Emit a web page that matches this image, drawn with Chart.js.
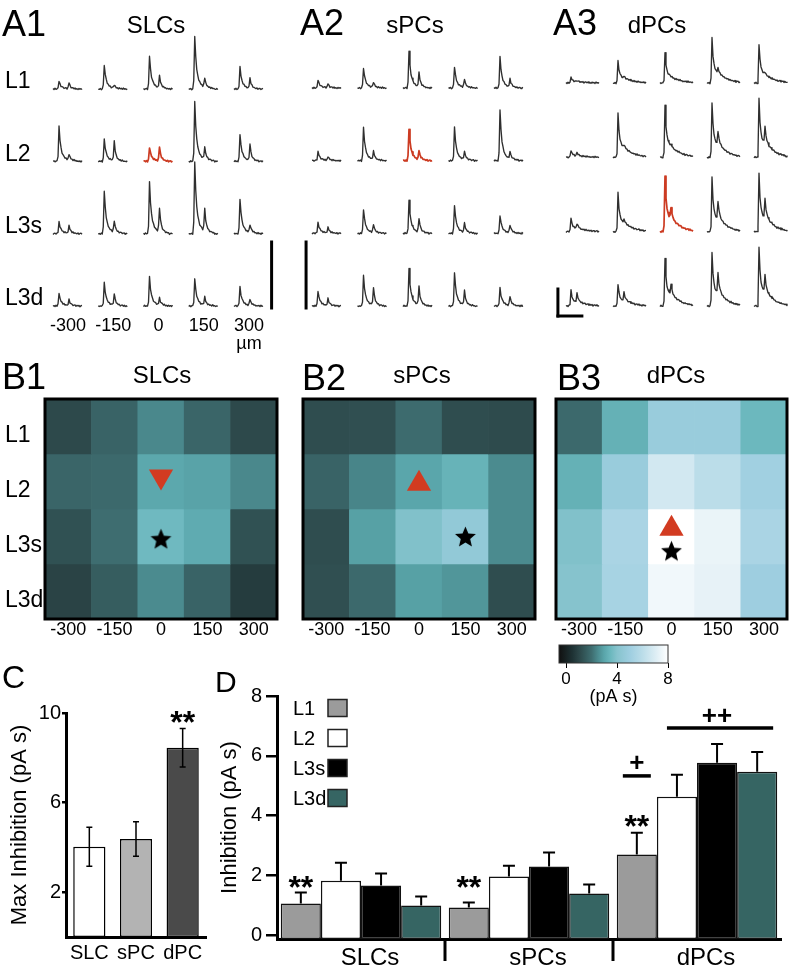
<!DOCTYPE html>
<html><head><meta charset="utf-8">
<script src="https://cdn.jsdelivr.net/npm/chart.js@4.4.0/dist/chart.umd.min.js"></script>
<style>
html,body{margin:0;padding:0;background:#fff;}
body{width:796px;height:975px;position:relative;overflow:hidden;font-family:"Liberation Sans",Arial,Helvetica,sans-serif;}
.lbl{position:absolute;white-space:nowrap;color:#000;line-height:1;}
canvas{position:absolute;}
</style></head><body>
<script>
// ---------------- DATA ----------------
const positions = ['-300', '-150', '0', '150', '300'];
const layers = ['L1', 'L2', 'L3s', 'L3d'];

// A: evoked IPSC trace amplitudes (first / second event), rows L1..L3d, columns -300..300 um
const slcPeak1 = [[8, 24, 33, 53, 22], [35, 22, 14, 59, 27], [12, 43, 52, 72, 35], [13, 23, 29, 27, 19]];
const slcPeak2 = [[6, 3, 12, 9, 10], [6, 19, 14, 12, 16], [8, 11, 24, 22, 8], [6, 11, 7, 8, 6]];
const spcPeak1 = [[8, 20, 37, 21, 31], [9, 33, 32, 33, 51], [11, 24, 33, 28, 18], [15, 30, 37, 33, 18]];
const spcPeak2 = [[4, 5, 14, 8, 8], [4, 8, 9, 8, 7], [6, 8, 14, 9, 8], [7, 17, 18, 14, 9]];
const dpcPeak1 = [[6, 22, 30, 45, 39], [7, 44, 52, 55, 59], [14, 39, 56, 54, 58], [16, 22, 48, 54, 59]];
const dpcPeak2 = [[1, 2, 0, 5, 2], [3, 3, 1, 14, 18], [5, 4, 12, 19, 20], [9, 9, 11, 21, 18]];
// highlighted (red) trace per panel: [row, col]
const slcHighlight = [1, 2];
const spcHighlight = [1, 2];
const dpcHighlight = [2, 2];

// normalised event waveforms (one sample per pixel)
const fastEvent1 = [0,0,0,0,0,0.15,1,0.6,0.38,0.26,0.18,0.13,0.1,0.08,0.06,0.05,0.04,0.035,0.03,0.025,0.02,0.02,0.015,0.01,0.01,0.005,0,0,0,0];
const fastEvent2 = [0,0,0,0,0,0,0,0,0,0,0,0,0,0,0,0.2,1,0.5,0.28,0.16,0.1,0.06,0.04,0.03,0.02,0.01,0,0,0,0];
const slowEvent1 = [0,0,0,0,0.1,1,0.6,0.42,0.33,0.28,0.25,0.22,0.2,0.18,0.16,0.14,0.13,0.12,0.11,0.1,0.09,0.08,0.07,0.06,0.06,0.05,0.05,0.04,0.04,0.03,0.03,0.03,0.02,0.02];
const slowEvent2 = [0,0,0,0,0,0,0,0,0,0,0.15,1,0.55,0.35,0.25,0.18,0.14,0.11,0.09,0.07,0.06,0.05,0.04,0.03,0.03,0.02,0.02,0.01,0.01,0.01,0.01,0,0,0];
const traceNoise = [0.5,-0.6,0.8,-0.3,0.2,0,-0.4,0.6,-0.7,0.3,0.5,-0.5,0.2,0.7,-0.6,0.4,-0.2,0.6,-0.8,0.3,0.5,-0.4,0.7,-0.5,0.2,-0.7,0.6,-0.3,0.4,-0.6,0.8,-0.2,0.3,-0.5,0.1,-0.3];

// B: inhibition maps (pA s), rows L1..L3d, columns -300..300 um
const slcMap = [[1.1, 1.75, 2.45, 1.8, 1.1], [1.8, 1.9, 3.05, 2.95, 2.45], [1.3, 2.0, 3.55, 3.15, 1.3], [0.95, 1.6, 2.5, 1.75, 0.75]];
const spcMap = [[1.2, 1.25, 1.95, 1.2, 1.15], [1.75, 2.4, 3.0, 3.35, 2.5], [1.2, 2.9, 3.9, 4.5, 2.5], [1.25, 1.9, 2.9, 2.7, 1.2]];
const dpcMap = [[1.9, 3.3, 4.8, 4.8, 3.5], [3.3, 4.8, 6.7, 6.0, 5.1], [3.9, 5.4, 8.0, 7.4, 5.4], [4.0, 5.3, 7.6, 7.3, 5.0]];
const colorbarTicks = [0, 4, 8];
const colorbarMin = -0.55;
const colorbarMax = 8;

// C: max inhibition
const cellTypes = ['SLC', 'sPC', 'dPC'];
const maxInhibition = [4.03, 4.38, 8.45];
const maxInhibitionSem = [0.87, 0.77, 0.86];
const cTicks = [2, 6, 10];

// D: inhibition by layer
const groups = ['SLCs', 'sPCs', 'dPCs'];
const inhL1 = [1.07, 0.93, 2.7];
const inhL2 = [1.83, 1.97, 4.63];
const inhL3s = [1.67, 2.3, 5.77];
const inhL3d = [1.0, 1.4, 5.47];
const semL1 = [0.36, 0.17, 0.73];
const semL2 = [0.6, 0.36, 0.74];
const semL3s = [0.4, 0.47, 0.63];
const semL3d = [0.3, 0.3, 0.66];
const dTicks = [0, 2, 4, 6, 8];

// ---------------- HELPERS ----------------
const FONT = '"Liberation Sans", Arial, Helvetica, sans-serif';
Chart.defaults.font.family = FONT;
Chart.defaults.color = '#000';

function mkCanvas(left, top, w, h) {
  const c = document.createElement('canvas');
  c.width = w; c.height = h;
  c.style.left = left + 'px'; c.style.top = top + 'px';
  c.style.width = w + 'px'; c.style.height = h + 'px';
  document.body.appendChild(c);
  return c;
}
function addText(txt, x, baseline, size, align) {
  const d = document.createElement('div');
  d.className = 'lbl'; d.textContent = txt;
  d.style.fontSize = size + 'px';
  d.style.top = (baseline - 0.8465 * size) + 'px';
  d.style.left = x + 'px';
  if (align === 'center') d.style.transform = 'translateX(-50%)';
  document.body.appendChild(d);
}
const baseOpts = () => ({
  responsive: false, animation: false, events: [], devicePixelRatio: 1,
});
const layoutPad = p => ({autoPadding: false, padding: p});
const noLegend = {legend: {display: false}, tooltip: {enabled: false}};
// fixed axis sizes with no label-overflow padding
const fixH = h => s => { s.height = h; s.paddingLeft = 0; s.paddingRight = 0; };
const fixW = w => s => { s.width = w; s.paddingTop = 0; s.paddingBottom = 0; };

const heatStops = [[-0.55,'#101010'],[0.5,'#1e3234'],[1,'#2b4547'],[1.5,'#34595b'],[2,'#3e6d70'],[2.5,'#4b8b8f'],[3,'#5aa6ab'],[3.5,'#6cb8be'],[4,'#86c3cd'],[5,'#9ecee0'],[6,'#bbdde9'],[7,'#dcedf4'],[8,'#ffffff']];
function hexRgb(h) { return [parseInt(h.slice(1,3),16), parseInt(h.slice(3,5),16), parseInt(h.slice(5,7),16)]; }
function heatColor(v) {
  if (v <= heatStops[0][0]) return heatStops[0][1];
  for (let i = 1; i < heatStops.length; i++) {
    if (v <= heatStops[i][0]) {
      const [v0, c0] = heatStops[i-1], [v1, c1] = heatStops[i];
      const t = (v - v0) / (v1 - v0), a = hexRgb(c0), b = hexRgb(c1);
      return 'rgb(' + a.map((x, k) => Math.round(x + (b[k] - x) * t)).join(',') + ')';
    }
  }
  return heatStops[heatStops.length-1][1];
}

// ---------------- PLUGINS ----------------
const scaleBarPlugin = {
  id: 'scaleBar',
  afterDatasetsDraw(chart, args, opts) {
    if (!opts.segments) return;
    const ctx = chart.ctx, xs = chart.scales.x, ys = chart.scales.y;
    ctx.save(); ctx.strokeStyle = '#000'; ctx.lineWidth = 3; ctx.lineCap = 'square';
    opts.segments.forEach(s => {
      ctx.beginPath();
      ctx.moveTo(xs.getPixelForValue(s[0]), ys.getPixelForValue(s[1]));
      ctx.lineTo(xs.getPixelForValue(s[2]), ys.getPixelForValue(s[3]));
      ctx.stroke();
    });
    ctx.restore();
  }
};
const framePlugin = {
  id: 'frame',
  afterDraw(chart, args, opts) {
    if (!opts.width) return;
    const {left, top, right, bottom} = chart.chartArea, ctx = chart.ctx;
    ctx.save(); ctx.strokeStyle = opts.color || '#000'; ctx.lineWidth = opts.width;
    ctx.strokeRect(left, top, right - left, bottom - top);
    ctx.restore();
  }
};
const errorBarsPlugin = {
  id: 'errorBars',
  afterDatasetsDraw(chart, args, opts) {
    const ctx = chart.ctx, ys = chart.scales.y;
    ctx.save(); ctx.strokeStyle = '#000'; ctx.lineWidth = opts.lineWidth || 1.5;
    chart.data.datasets.forEach((ds, i) => {
      if (!ds.errors) return;
      chart.getDatasetMeta(i).data.forEach((el, j) => {
        const v = ds.data[j], e = ds.errors[j], h = opts.cap / 2;
        const yTop = ys.getPixelForValue(v + e);
        const yBot = opts.twoSided ? ys.getPixelForValue(v - e) : el.y;
        ctx.beginPath();
        ctx.moveTo(el.x, yBot); ctx.lineTo(el.x, yTop);
        ctx.moveTo(el.x - h, yTop); ctx.lineTo(el.x + h, yTop);
        if (opts.twoSided) { ctx.moveTo(el.x - h, yBot); ctx.lineTo(el.x + h, yBot); }
        ctx.stroke();
      });
    });
    ctx.restore();
  }
};
const marksPlugin = {
  id: 'marks',
  afterDatasetsDraw(chart, args, opts) {
    const ctx = chart.ctx, ys = chart.scales.y;
    ctx.save(); ctx.fillStyle = '#000'; ctx.strokeStyle = '#000';
    (opts.texts || []).forEach(t => {
      const el = chart.getDatasetMeta(t.ds).data[t.idx];
      const size = t.size || 32;
      ctx.font = 'bold ' + size + 'px ' + FONT;
      ctx.textAlign = 'center'; ctx.textBaseline = 'alphabetic';
      const k = t.text.indexOf('*') >= 0 ? 0.57 : 0.35;
      ctx.fillText(t.text, el.x + (t.dx || 0), ys.getPixelForValue(t.y) + k * size);
    });
    (opts.lines || []).forEach(l => {
      const a = chart.getDatasetMeta(l.ds).data[l.idx];
      const b = chart.getDatasetMeta(l.ds2).data[l.idx];
      const y = ys.getPixelForValue(l.y);
      ctx.lineWidth = 3.5;
      ctx.beginPath(); ctx.moveTo(a.x + l.x0, y); ctx.lineTo(b.x + l.x1, y); ctx.stroke();
    });
    ctx.restore();
  }
};
const sideLegendPlugin = {
  id: 'sideLegend',
  afterDraw(chart, args, o) {
    if (!o.textX) return;
    const ctx = chart.ctx;
    ctx.save();
    ctx.font = o.size + 'px ' + FONT; ctx.textBaseline = 'middle'; ctx.textAlign = 'left';
    chart.data.datasets.forEach((ds, i) => {
      const y = o.y0 + i * o.dy;
      ctx.fillStyle = '#000';
      ctx.fillText(ds.label, o.textX, y + 1);
      ctx.fillStyle = ds.backgroundColor;
      ctx.fillRect(o.boxX, y - o.boxH / 2, o.boxW, o.boxH);
      ctx.lineWidth = 1.5; ctx.strokeStyle = '#222';
      ctx.strokeRect(o.boxX, y - o.boxH / 2, o.boxW, o.boxH);
    });
    ctx.restore();
  }
};
const separatorsPlugin = {
  id: 'separators',
  afterDraw(chart, args, o) {
    if (!o.length) return;
    const ctx = chart.ctx, xs = chart.scales.x, b = chart.chartArea.bottom;
    ctx.save(); ctx.strokeStyle = '#000'; ctx.lineWidth = 3;
    for (let k = 1; k < chart.data.labels.length; k++) {
      const x = xs.getPixelForValue(k - 0.5);
      ctx.beginPath(); ctx.moveTo(x, b); ctx.lineTo(x, b + o.length); ctx.stroke();
    }
    ctx.restore();
  }
};

// ---------------- A: TRACES ----------------
function traceChart(o) {
  const cv = mkCanvas(o.left, o.top, o.w, o.h);
  const datasets = [];
  for (let r = 0; r < 4; r++) for (let c = 0; c < 5; c++) {
    const baseY = (3 - r) * o.rowGap;
    const pts = o.ev1.map((e1, i) => ({
      x: c + (o.start + i) / o.spacing,
      y: baseY + o.p1[r][c] * e1 + o.p2[r][c] * o.ev2[i] + traceNoise[(i + r * 9 + c * 5) % traceNoise.length]
    }));
    const hi = r === o.hi[0] && c === o.hi[1];
    datasets.push({data: pts, showLine: true, borderColor: hi ? '#cc3b22' : '#2f2f2f',
      borderWidth: hi ? 1.7 : 1.35, pointRadius: 0, tension: 0, borderJoinStyle: 'round', clip: false});
  }
  const rowTicks = [3, 2, 1, 0].map(r => (3 - r) * o.rowGap + 7);
  new Chart(cv, {
    type: 'scatter',
    data: {datasets},
    options: Object.assign(baseOpts(), {
      layout: layoutPad(o.pad),
      scales: {
        x: {type: 'linear', min: -0.5, max: 4.5, display: !!o.showX,
          afterBuildTicks: s => { s.ticks = positions.map((p, i) => ({value: i})); },
          grid: {display: false, drawTicks: false}, border: {display: false},
          ticks: {font: {size: 18, lineHeight: 1}, padding: 3, maxRotation: 0, autoSkip: false,
            callback: (v, i) => i === positions.length - 1 ? [positions[i], 'µm'] : positions[i]},
          afterFit: fixH(o.showX ? 45 : 0)},
        y: {type: 'linear', min: -8, max: 276, display: !!o.showY,
          afterBuildTicks: s => { s.ticks = rowTicks.map(v => ({value: v})); },
          grid: {display: false, drawTicks: false}, border: {display: false},
          ticks: {font: {size: 23}, crossAlign: 'far', padding: 0, callback: (v, i) => layers[3 - i]},
          afterFit: fixW(o.showY ? o.yWidth : 0)}
      },
      plugins: Object.assign({}, noLegend, {scaleBar: {segments: o.bars}})
    }),
    plugins: [scaleBarPlugin]
  });
}

traceChart({left: 0, top: 28, w: 280, h: 331, pad: {left: 5, top: 2, right: 8.4, bottom: 0},
  yWidth: 40.4, showX: true, showY: true, spacing: 45.25, rowGap: 72.33, start: -15,
  p1: slcPeak1, p2: slcPeak2, ev1: fastEvent1, ev2: fastEvent2, hi: slcHighlight,
  bars: [[4.5, -2, 4.5, 64]]});
traceChart({left: 296, top: 28, w: 244, h: 298, pad: {left: 8.25, top: 2, right: 8.25, bottom: 12},
  spacing: 45.5, rowGap: 72.67, start: -15,
  p1: spcPeak1, p2: spcPeak2, ev1: fastEvent1, ev2: fastEvent2, hi: spcHighlight,
  bars: [[-0.46, -2, -0.46, 64]]});
traceChart({left: 548, top: 28, w: 248, h: 298, pad: {left: 8.5, top: 2, right: 4.5, bottom: 12},
  spacing: 47, rowGap: 74.33, start: -14,
  p1: dpcPeak1, p2: dpcPeak2, ev1: slowEvent1, ev2: slowEvent2, hi: dpcHighlight,
  bars: [[-0.47, -10, -0.47, 17], [-0.47, -10, 0.04, -10]]});

// ---------------- B: MAPS ----------------
function starImage(size) {
  const cv = document.createElement('canvas'); cv.width = cv.height = size;
  const g = cv.getContext('2d'), cx = size / 2, cy = size / 2 + 1, R = size / 2 - 0.5, r = R * 0.45;
  g.beginPath();
  for (let k = 0; k < 10; k++) {
    const ang = -Math.PI / 2 + k * Math.PI / 5, rad = k % 2 ? r : R;
    g.lineTo(cx + rad * Math.cos(ang), cy + rad * Math.sin(ang));
  }
  g.closePath(); g.fillStyle = '#000'; g.fill();
  return cv;
}
const starImg = starImage(23);

function heatChart(o) {
  const cv = mkCanvas(o.left, 390, o.w, 259);
  const datasets = [
    {type: 'line', data: [{x: o.tri[0], y: o.tri[1]}], showLine: false, pointStyle: 'triangle',
      rotation: o.tri[2], pointRadius: 14, backgroundColor: '#d23b21', borderWidth: 0, order: -2},
    {type: 'line', data: [{x: o.star[0], y: o.star[1]}], showLine: false, pointStyle: starImg,
      pointRadius: 11, order: -1}
  ];
  layers.forEach((name, r) => datasets.push({
    type: 'bar', label: name, data: o.values[r].map(() => [3 - r, 4 - r]),
    backgroundColor: o.values[r].map(heatColor), borderWidth: 0,
    barPercentage: 1, categoryPercentage: 1, grouped: false
  }));
  const rowTicks = [3, 2, 1, 0].map(r => (3 - r) + 0.34);
  new Chart(cv, {
    type: 'bar',
    data: {labels: positions, datasets},
    options: Object.assign(baseOpts(), {
      layout: layoutPad({left: 5, top: 9, right: 5, bottom: 0}),
      scales: {
        x: {type: 'category', grid: {display: false, drawTicks: false}, border: {display: false},
          ticks: {font: {size: 18, lineHeight: 1}, padding: 2, autoSkip: false, maxRotation: 0},
          afterFit: fixH(30)},
        y: {type: 'linear', min: 0, max: 4, display: !!o.showY,
          afterBuildTicks: s => { s.ticks = rowTicks.map(v => ({value: v})); },
          grid: {display: false, drawTicks: false}, border: {display: false},
          ticks: {font: {size: 23}, crossAlign: 'far', padding: 0, callback: (v, i) => layers[3 - i]},
          afterFit: fixW(o.showY ? 40 : 0)}
      },
      plugins: Object.assign({}, noLegend, {frame: {width: 3}})
    }),
    plugins: [framePlugin]
  });
}
heatChart({left: 0, w: 282, showY: true, values: slcMap, tri: ['0', 2.59, 180], star: ['0', 1.46]});
heatChart({left: 298, w: 242, values: spcMap, tri: ['0', 2.46, 0], star: ['150', 1.5]});
heatChart({left: 551, w: 241, values: dpcMap, tri: ['0', 1.64, 0], star: ['0', 1.24]});

// colour bar
(function () {
  const cv = mkCanvas(540, 640, 140, 66);
  new Chart(cv, {
    type: 'bar',
    data: {labels: [''], datasets: [{
      data: [[colorbarMin, colorbarMax]], borderWidth: 0, barPercentage: 1, categoryPercentage: 1,
      backgroundColor: ctx => {
        const ch = ctx.chart, a = ch.chartArea, xs = ch.scales.x;
        if (!a || !xs) return '#888';
        const g = ch.ctx.createLinearGradient(a.left, 0, a.right, 0);
        heatStops.forEach(([v, c]) => {
          const p = (xs.getPixelForValue(v) - a.left) / (a.right - a.left);
          g.addColorStop(Math.min(1, Math.max(0, p)), c);
        });
        return g;
      }
    }]},
    options: Object.assign(baseOpts(), {
      indexAxis: 'y',
      layout: layoutPad({left: 19, top: 5, right: 12, bottom: 0}),
      scales: {
        x: {type: 'linear', min: colorbarMin, max: colorbarMax,
          afterBuildTicks: s => { s.ticks = colorbarTicks.map(v => ({value: v})); },
          grid: {drawOnChartArea: false, drawTicks: true, tickLength: 5, color: '#000', lineWidth: 1},
          border: {display: false},
          ticks: {font: {size: 17, lineHeight: 1}, padding: 3, maxRotation: 0},
          title: {display: true, text: '(pA s)', font: {size: 18, lineHeight: 1}, padding: {top: 0, bottom: 0}},
          afterFit: fixH(43)},
        y: {display: false}
      },
      plugins: Object.assign({}, noLegend, {frame: {width: 1, color: '#333'}})
    }),
    plugins: [framePlugin]
  });
})();

// ---------------- C ----------------
(function () {
  const cv = mkCanvas(0, 690, 215, 282);
  new Chart(cv, {
    type: 'bar',
    data: {labels: cellTypes, datasets: [{
      data: maxInhibition, errors: maxInhibitionSem,
      backgroundColor: ['#ffffff', '#b3b3b3', '#4a4a4a'], borderColor: '#000', borderWidth: 1.5,
      borderSkipped: false, barPercentage: 0.69, categoryPercentage: 1
    }]},
    options: Object.assign(baseOpts(), {
      layout: layoutPad({left: 0, top: 23, right: 9, bottom: 0}),
      scales: {
        x: {grid: {display: false, drawTicks: false}, border: {display: true, width: 3, color: '#000'},
          ticks: {font: {size: 20, lineHeight: 1}, padding: 6, autoSkip: false, maxRotation: 0},
          afterFit: fixH(35)},
        y: {min: 0, max: 10,
          afterBuildTicks: s => { s.ticks = cTicks.map(v => ({value: v})); },
          grid: {drawOnChartArea: false, drawTicks: true, tickLength: 4, color: '#000', lineWidth: 2.5},
          border: {display: true, width: 3, color: '#000'},
          ticks: {font: {size: 20}, padding: 1},
          title: {display: true, text: 'Max Inhibition (pA s)', font: {size: 22}, padding: {top: 7, bottom: 0}},
          afterFit: fixW(66)}
      },
      plugins: Object.assign({}, noLegend, {
        errorBars: {twoSided: true, cap: 6, lineWidth: 1.5},
        marks: {texts: [{ds: 0, idx: 2, y: 9.9, text: '**', size: 32}]}
      })
    }),
    plugins: [errorBarsPlugin, marksPlugin]
  });
})();

// ---------------- D ----------------
(function () {
  const cv = mkCanvas(200, 680, 596, 295);
  const vals = [inhL1, inhL2, inhL3s, inhL3d];
  const sems = [semL1, semL2, semL3s, semL3d];
  const fills = ['#9b9b9b', '#ffffff', '#000000', '#366563'];
  new Chart(cv, {
    type: 'bar',
    data: {labels: groups, datasets: layers.map((name, k) => ({
      label: name, data: vals[k], errors: sems[k], backgroundColor: fills[k],
      borderColor: '#111', borderWidth: 1.5, borderSkipped: false,
      categoryPercentage: 0.955, barPercentage: 1, base: -0.12
    }))},
    options: Object.assign(baseOpts(), {
      layout: layoutPad({left: 0, top: 16, right: 15, bottom: 0}),
      scales: {
        x: {grid: {display: false, drawTicks: false}, border: {display: true, width: 3, color: '#000'},
          ticks: {font: {size: 24, lineHeight: 1}, padding: 7, labelOffset: 9, autoSkip: false, maxRotation: 0},
          afterFit: fixH(36)},
        y: {min: -0.12, max: 8,
          afterBuildTicks: s => { s.ticks = dTicks.map(v => ({value: v})); },
          grid: {drawOnChartArea: false, drawTicks: true, tickLength: 11, color: '#000', lineWidth: 2.5},
          border: {display: true, width: 3, color: '#000'},
          ticks: {font: {size: 20}, padding: 4},
          title: {display: true, text: 'Inhibition (pA s)', font: {size: 22}, padding: {top: 17, bottom: 0}},
          afterFit: fixW(77)}
      },
      plugins: Object.assign({}, noLegend, {
        errorBars: {twoSided: false, cap: 12, lineWidth: 2},
        marks: {
          texts: [
            {ds: 0, idx: 0, y: 1.87, text: '**', size: 32},
            {ds: 0, idx: 1, y: 1.87, text: '**', size: 32},
            {ds: 0, idx: 2, y: 3.9, text: '**', size: 32},
            {ds: 0, idx: 2, y: 5.8, text: '+', size: 26},
            {ds: 2, idx: 2, y: 7.37, text: '++', size: 26}
          ],
          lines: [
            {ds: 0, ds2: 0, idx: 2, y: 5.33, x0: -14, x1: 14},
            {ds: 1, ds2: 3, idx: 2, y: 6.93, x0: -10, x1: 16}
          ]
        },
        sideLegend: {textX: 93, boxX: 128, boxW: 19, boxH: 17, y0: 28, dy: 30, size: 20},
        separators: {length: 22}
      })
    }),
    plugins: [errorBarsPlugin, marksPlugin, sideLegendPlugin, separatorsPlugin]
  });
})();

// ---------------- PANEL TEXT ----------------
addText('A1', 2, 36, 36);
addText('SLCs', 156, 33, 24, 'center');
addText('A2', 300, 35, 36);
addText('sPCs', 415, 33, 24, 'center');
addText('A3', 553, 35, 36);
addText('dPCs', 657, 33, 24, 'center');
addText('B1', 2, 389, 36);
addText('SLCs', 162, 383, 24, 'center');
addText('B2', 302, 390, 36);
addText('sPCs', 422, 383, 24, 'center');
addText('B3', 557, 390, 36);
addText('dPCs', 676, 383, 24, 'center');
addText('C', 2, 688, 32);
addText('D', 215, 692, 30);
</script>
</body></html>
